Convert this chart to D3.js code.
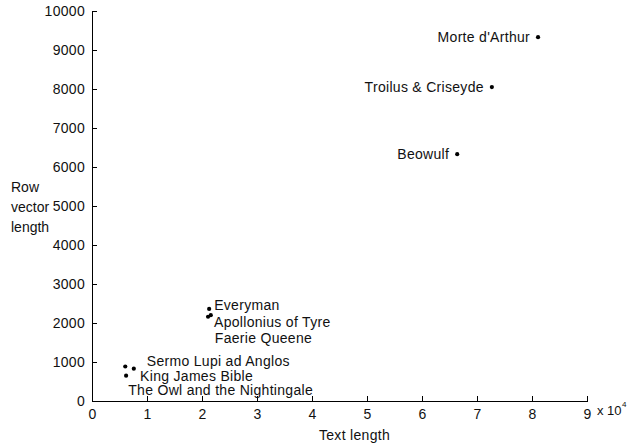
<!DOCTYPE html>
<html>
<head>
<meta charset="utf-8">
<script src="https://cdn.jsdelivr.net/npm/d3@7/dist/d3.min.js"></script>
<style>
  html, body { margin: 0; padding: 0; background: #fff; }
  svg { display: block; }
  text { font-family: "Liberation Sans", Arial, sans-serif; font-size: 14px; letter-spacing: 0.3px; fill: #111; }
</style>
</head>
<body>
<svg id="chart" width="631" height="448"></svg>
<script>
// Texts plotted by length against row vector length
const titles = ["Morte d'Arthur", "Troilus & Criseyde", "Beowulf", "Everyman",
  "Apollonius of Tyre", "Faerie Queene", "Sermo Lupi ad Anglos",
  "King James Bible", "The Owl and the Nightingale"];
const textLength = [81100, 72700, 66400, 21300, 21100, 21600, 7600, 6200, 6050];
const rowVectorLength = [9330, 8050, 6330, 2360, 2160, 2200, 830, 650, 885];

const xTicks = [0, 1, 2, 3, 4, 5, 6, 7, 8, 9];          // in units of 10^4
const yTicks = [0, 1000, 2000, 3000, 4000, 5000, 6000, 7000, 8000, 9000, 10000];
const xExponent = "4";
const xLabel = "Text length";
const yLabelLines = ["Row", "vector", "length"];

const svg = d3.select("#chart");
const x = d3.scaleLinear().domain([0, 90000]).range([92, 587]);
const y = d3.scaleLinear().domain([0, 10000]).range([401, 11]);

// Axes: ticks drawn inward, no box
const xAxis = d3.axisBottom(x)
  .tickValues(xTicks.map(d => d * 10000))
  .tickFormat(d => d3.format("d")(d / 10000))
  .tickSizeInner(-5).tickSizeOuter(0).tickPadding(8);
const yAxis = d3.axisLeft(y)
  .tickValues(yTicks)
  .tickFormat(d3.format("d"))
  .tickSizeInner(-5).tickSizeOuter(0).tickPadding(6);

const gx = svg.append("g").attr("transform", `translate(0,${y(0)})`).call(xAxis);
const gy = svg.append("g").attr("transform", `translate(${x(0)},0)`).call(yAxis);
[gx, gy].forEach(g => {
  g.select(".domain").attr("stroke", "#000").attr("stroke-width", 1).attr("shape-rendering", "crispEdges");
  g.selectAll(".tick line").attr("stroke", "#000").attr("shape-rendering", "crispEdges");
  g.selectAll(".tick text").attr("font-family", null).attr("font-size", null).attr("fill", null);
});
gy.selectAll(".tick text").attr("dx", "-1");

// Exponent of the x axis
const expG = svg.append("text").attr("x", 597).attr("y", 415)
  .style("letter-spacing", "0px").style("font-size", "13px");
expG.append("tspan").text("x 10");
expG.append("tspan").attr("font-size", "8px").attr("dy", -8).attr("dx", 0.5).text(xExponent);

// Axis labels
svg.append("text")
  .attr("x", (x.range()[0] + x.range()[1]) / 2 + 15)
  .attr("y", 440)
  .attr("text-anchor", "middle")
  .text(xLabel);

svg.append("g").selectAll("text").data(yLabelLines).join("text")
  .attr("x", 11)
  .attr("y", (d, i) => 192 + i * 20)
  .style("letter-spacing", "0px")
  .text(d => d);

// Points
const pts = titles.map((t, i) => ({ title: t, tx: textLength[i], rv: rowVectorLength[i] }));
svg.append("g").selectAll("circle").data(pts).join("circle")
  .attr("cx", d => x(d.tx))
  .attr("cy", d => y(d.rv))
  .attr("r", 2.1)
  .attr("fill", "#000");

// Label placement relative to each point (pixels)
const labelPlace = {
  "Morte d'Arthur": { dx: -8, dy: 0, anchor: "end" },
  "Troilus & Criseyde": { dx: -8, dy: 0, anchor: "end" },
  "Beowulf": { dx: -8, dy: 0, anchor: "end" },
  "Everyman": { dx: 5, dy: -4, anchor: "start" },
  "Apollonius of Tyre": { dx: 6, dy: 5, anchor: "start" },
  "Faerie Queene": { dx: 4, dy: 23, anchor: "start" },
  "Sermo Lupi ad Anglos": { dx: 13, dy: -8, anchor: "start" },
  "King James Bible": { dx: 14, dy: 0, anchor: "start" },
  "The Owl and the Nightingale": { dx: 3, dy: 24, anchor: "start" }
};

svg.append("g").selectAll("text").data(pts).join("text")
  .attr("x", d => x(d.tx) + labelPlace[d.title].dx)
  .attr("y", d => y(d.rv) + labelPlace[d.title].dy)
  .attr("dy", "0.35em")
  .attr("text-anchor", d => labelPlace[d.title].anchor)
  .text(d => d.title);
</script>
</body>
</html>
